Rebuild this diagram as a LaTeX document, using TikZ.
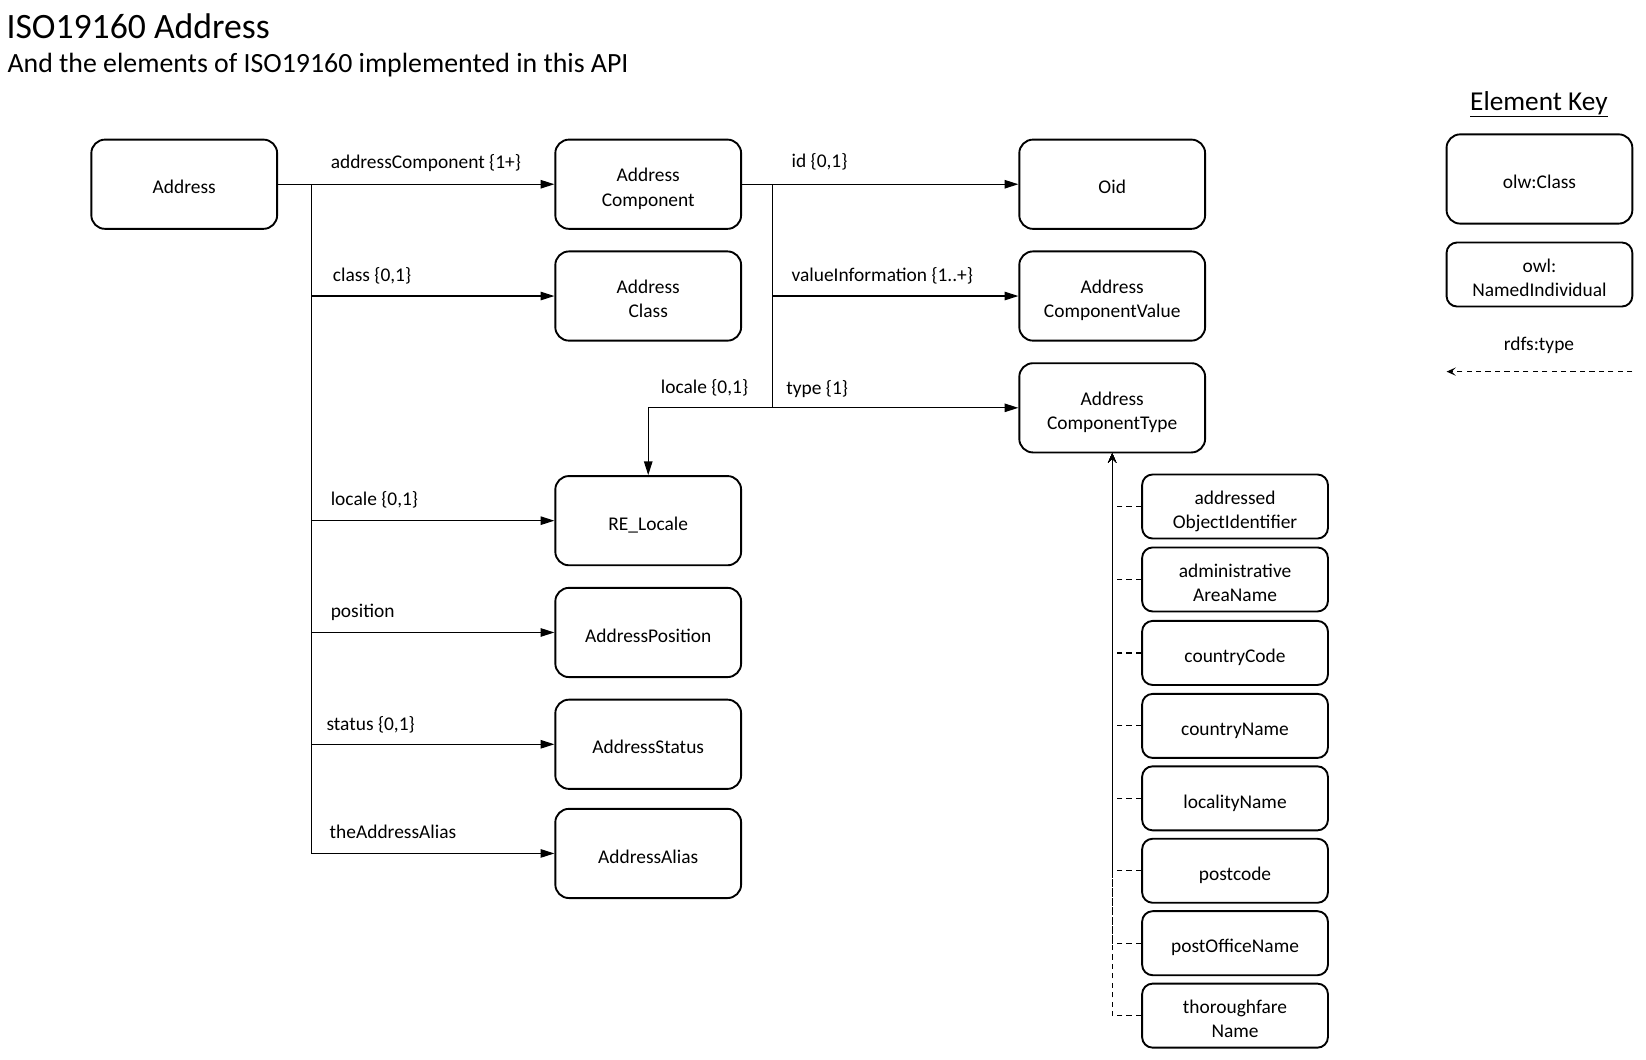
\documentclass[tikz,border=0pt]{standalone}
\usepackage{fontspec}
\setmainfont{Carlito}
\usetikzlibrary{arrows.meta,calc}
\tikzset{
  boxtext/.style={align=center, font=\fontsize{18.5}{23}\selectfont,
    execute at begin node={\rule{0pt}{22.5pt}}, execute at end node={\rule[-4pt]{0pt}{4pt}}},
  two/.style={execute at begin node={\rule{0pt}{45.5pt}}},
  cls/.style={draw, line width=1.8pt, rounded corners=13pt, minimum width=177pt, minimum height=85pt, inner sep=0pt, boxtext},
  ind/.style={draw, line width=1.8pt, rounded corners=10pt, minimum width=177pt, minimum height=61pt, inner sep=0pt, boxtext},
  conn/.style={line width=1.1pt, -{Triangle[length=13pt,width=8pt]}},
  typeof/.style={line width=1.1pt, dash pattern=on 5pt off 4pt, -{Stealth[length=9pt,width=8pt,inset=4pt]}},
  lbl/.style={inner sep=0pt, font=\fontsize{18.5}{23}\selectfont},
}
\begin{document}
\begin{tikzpicture}[x=1pt,y=-1pt]
\useasboundingbox[fill=white] (0,0) rectangle (1568,1009);
% titles
\node[anchor=west, inner sep=0pt, font=\fontsize{34}{40}\selectfont] (title) at (6,25) {ISO19160 Address};
\node[anchor=west, inner sep=0pt, font=\fontsize{26.5}{32}\selectfont] (subtitle) at (7,62) {And the elements of ISO19160 implemented in this API};
% main classes
\node[cls] (addr) at (175.5,175.5) {Address};
\node[cls, two] (ac) at (617.5,175.5) {Address\\Component};
\node[cls] (oid) at (1059.5,175.5) {Oid};
\node[cls, two] (acl) at (617.5,282) {Address\\Class};
\node[cls, two] (acv) at (1059.5,282) {Address\\ComponentValue};
\node[cls, two] (act) at (1059.5,388.5) {Address\\ComponentType};
\node[cls] (reloc) at (617.5,496) {RE\_Locale};
\node[cls] (apos) at (617.5,602.5) {AddressPosition};
\node[cls] (asta) at (617.5,709) {AddressStatus};
\node[cls] (aali) at (617.5,813) {AddressAlias};
% individuals
\node[ind, two] (i1) at (1176.5,482.5) {addressed\\ObjectIdentifier};
\node[ind, two] (i2) at (1176.5,552) {administrative\\AreaName};
\node[ind] (i3) at (1176.5,622) {countryCode};
\node[ind] (i4) at (1176.5,691.5) {countryName};
\node[ind] (i5) at (1176.5,760.5) {localityName};
\node[ind] (i6) at (1176.5,829.5) {postcode};
\node[ind] (i7) at (1176.5,898.5) {postOfficeName};
\node[ind, two] (i8) at (1176.5,967.5) {thoroughfare\\Name};
% key
\node[inner sep=0pt, font=\fontsize{26}{31}\selectfont] (keyt) at (1466,99) {\underline{Element Key}};
\node[cls] (kcls) at (1466.5,170.5) {olw:Class};
\node[ind, two] (kind) at (1466.5,261.5) {owl:\\NamedIndividual};
\node[lbl] (ktype) at (1466,329) {rdfs:type};
\coordinate (kr) at (1555,354);
\coordinate (kl) at (1378,354);
\draw[typeof] (kr) -- (kl);
% Address edges
\coordinate (aj) at ($(addr.east)+(32,0)$);
\draw[conn] (addr.east) -- (ac.west);
\draw[conn] (addr.east) -- (aj) |- (acl.west);
\draw[conn] (addr.east) -- (aj) |- (reloc.west);
\draw[conn] (addr.east) -- (aj) |- (apos.west);
\draw[conn] (addr.east) -- (aj) |- (asta.west);
\draw[conn] (addr.east) -- (aj) |- (aali.west);
\node[lbl, anchor=west] at ($(aj |- ac.west)+(18,-20)$) {addressComponent \{1+\}};
\node[lbl, anchor=west] at ($(aj |- acl.west)+(20,-19)$) {class \{0,1\}};
\node[lbl, anchor=west] at ($(aj |- reloc.west)+(18,-20)$) {locale \{0,1\}};
\node[lbl, anchor=west] at ($(aj |- apos.west)+(18,-19)$) {position};
\node[lbl, anchor=west] at ($(aj |- asta.west)+(14,-19)$) {status \{0,1\}};
\node[lbl, anchor=west] at ($(aj |- aali.west)+(17,-21)$) {theAddressAlias};
% AddressComponent edges
\coordinate (cj) at ($(ac.east)+(29,0)$);
\draw[conn] (ac.east) -- (oid.west);
\draw[conn] (ac.east) -- (cj) |- (acv.west);
\draw[conn] (ac.east) -- (cj) |- (act.west);
\draw[conn] (ac.east) -- (cj) -- (cj |- act.west) -| (reloc.north);
\node[lbl, anchor=west] at ($(cj |- oid.west)+(18,-21)$) {id \{0,1\}};
\node[lbl, anchor=west] at ($(cj |- acv.west)+(18,-19)$) {valueInformation \{1..+\}};
\node[lbl, anchor=west] at ($(cj |- act.west)+(13,-18)$) {type \{1\}};
\node[lbl, anchor=east] at ($(cj |- act.west)+(-23,-19)$) {locale \{0,1\}};
% rdfs:type edges
\foreach \i in {1,...,8}{
  \draw[typeof] (i\i.west) -| (act.south);
}
\end{tikzpicture}
\end{document}
